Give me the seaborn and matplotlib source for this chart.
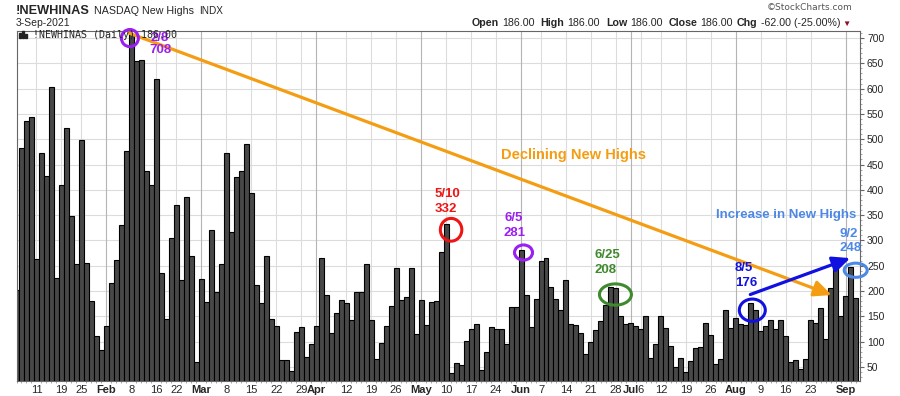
import numpy as np
import pandas as pd
import matplotlib
matplotlib.use('Agg')
import matplotlib.pyplot as plt
import seaborn as sns
from matplotlib.patches import Ellipse, Rectangle

# daily NASDAQ new highs (Jan 5 - Sep 3 2021)
jan = [202, 482, 536, 543, 264, 472, 427, 604, 225, 409, 522, 348, 254, 498, 256, 181, 111, 84]
feb = [130, 215, 261, 330, 476, 708, 655, 657, 438, 410, 619, 235, 144, 304, 369, 222, 385, 270, 60]
mar = [223, 179, 320, 197, 254, 472, 316, 425, 438, 490, 393, 211, 177, 270, 144, 130, 64, 64, 41, 118, 128, 70, 96]
apr = [130, 266, 193, 116, 157, 183, 177, 142, 197, 197, 254, 142, 66, 98, 130, 171, 246, 183, 189, 246, 114]
may = [183, 132, 179, 181, 278, 332, 37, 58, 53, 102, 124, 134, 43, 80, 128, 124, 124, 96, 169, 169]
jun = [281, 193, 128, 185, 260, 266, 207, 185, 163, 221, 134, 132, 116, 76, 100, 122, 140, 173, 208, 205, 151, 134]
jul = [136, 130, 124, 151, 68, 96, 151, 126, 92, 49, 68, 39, 62, 88, 90, 136, 112, 56, 66, 163, 126]
aug = [146, 134, 132, 176, 163, 120, 130, 142, 124, 142, 110, 60, 64, 45, 66, 142, 136, 167, 106, 205, 245, 150]
sep = [191, 248, 186]

holidays = ['2021-01-18', '2021-02-15', '2021-04-02', '2021-05-31', '2021-07-05']

tick_dates = ['2021-01-11', '2021-01-19', '2021-01-25',
              '2021-02-01', '2021-02-08', '2021-02-16', '2021-02-22',
              '2021-03-01', '2021-03-08', '2021-03-15', '2021-03-22', '2021-03-29',
              '2021-04-01', '2021-04-12', '2021-04-19', '2021-04-26',
              '2021-05-03', '2021-05-10', '2021-05-17', '2021-05-24',
              '2021-06-01', '2021-06-07', '2021-06-14', '2021-06-21', '2021-06-28',
              '2021-07-01', '2021-07-06', '2021-07-12', '2021-07-19', '2021-07-26',
              '2021-08-02', '2021-08-09', '2021-08-16', '2021-08-23',
              '2021-09-01']
tick_labels = ['11', '19', '25',
               'Feb', '8', '16', '22',
               'Mar', '8', '15', '22', '29',
               'Apr', '12', '19', '26',
               'May', '10', '17', '24',
               'Jun', '7', '14', '21', '28',
               'Jul', '6', '12', '19', '26',
               'Aug', '9', '16', '23',
               'Sep']
months = ['Feb', 'Mar', 'Apr', 'May', 'Jun', 'Jul', 'Aug', 'Sep']

days = pd.bdate_range('2021-01-05', '2021-09-03')
days = days[~days.isin(pd.to_datetime(holidays))]
values = jan + feb + mar + apr + may + jun + jul + aug + sep
df = pd.DataFrame({'date': days.strftime('%Y-%m-%d'), 'highs': values})
pos = {d: i for i, d in enumerate(df['date'])}

sns.set_style('white')
plt.rcParams['font.family'] = ['Liberation Sans', 'DejaVu Sans']

W, H = 900, 396
fig = plt.figure(figsize=(9, 3.96), dpi=100)
ax = fig.add_axes([16.5 / W, 1 - 381 / H, 843.5 / W, 350 / H])

sns.barplot(data=df, x='date', y='highs', color='#484848', saturation=1,
            width=1.0, edgecolor='black', linewidth=0.8, ax=ax, zorder=2)

ax.set_xlim(0.16, len(df) - 0.14)
ax.set_ylim(22, 714)
ax.set_xlabel('')
ax.set_ylabel('')

# grid
ax.set_axisbelow(True)
for y in range(50, 701, 50):
    ax.axhline(y, color='#dcdcdc', lw=0.8, zorder=0)
for d, lab in zip(tick_dates, tick_labels):
    c = '#b4b4b4' if lab in months else '#dcdcdc'
    ax.axvline(pos[d], color=c, lw=0.8, zorder=0)

ax.set_xticks([pos[d] for d in tick_dates])
ax.set_xticklabels(tick_labels, fontsize=8)
for t in ax.get_xticklabels():
    if t.get_text() in months:
        t.set_fontweight('bold')
ax.set_xticks(range(len(df)), minor=True)
ax.tick_params(axis='x', which='major', length=0, pad=3)
ax.tick_params(axis='x', which='minor', length=1.5, color='#999999', bottom=True)

ax.yaxis.tick_right()
ax.set_yticks(range(50, 701, 50))
ax.set_yticks(range(30, 711, 10), minor=True)
ax.tick_params(axis='y', which='major', length=3, labelsize=7.5, pad=2, color='#666666', right=True)
ax.tick_params(axis='y', which='minor', length=1.5, color='#999999', right=True)
for s in ax.spines.values():
    s.set_color('#666666')
    s.set_linewidth(0.8)

# annotations
orange = '#f59d12'
purple = '#9a1ff0'
red = '#ee1515'
green = '#3f8a2c'
blue = '#1010e0'
lblue = '#4d88e6'

ax.annotate('', xy=(163.2, 192), xytext=(22.5, 710),
            arrowprops=dict(arrowstyle='-|>,head_length=0.7,head_width=0.32', color=orange,
                            lw=2.3, mutation_scale=15, shrinkA=0, shrinkB=0),
            annotation_clip=False, zorder=4)
ax.annotate('', xy=(166.9, 265), xytext=(146.9, 193),
            arrowprops=dict(arrowstyle='-|>,head_length=0.7,head_width=0.32', color=blue,
                            lw=2.3, mutation_scale=15, shrinkA=0, shrinkB=0),
            annotation_clip=False, zorder=4)

circles = [(pos['2021-02-08'] - 0.3, 700, 3.4, 34, purple),
           (pos['2021-05-10'] + 1.0, 321, 4.3, 45, red),
           (pos['2021-06-01'] + 0.5, 276, 3.6, 30, purple),
           (pos['2021-06-25'] + 0.9, 193, 6.4, 42, green),
           (pos['2021-08-05'] + 0.3, 162, 5.2, 44, blue),
           (pos['2021-09-02'] + 1.0, 241, 4.6, 28, lblue)]
for x, y, w, h, c in circles:
    ax.add_patch(Ellipse((x, y), w, h, fill=False, edgecolor=c, lw=2.2, zorder=5, clip_on=False))

labels = [(28.7, 700, '2/8', purple), (28.9, 676, '708', purple),
          (86.2, 391, '5/10', red), (85.9, 363, '332', red),
          (99.5, 344, '6/5', purple), (99.7, 315, '281', purple),
          (118.3, 272, '6/25', green), (117.9, 241, '208', green),
          (145.5, 245, '8/5', blue), (146.0, 215, '176', blue),
          (166.5, 313, '9/2', lblue), (166.9, 284, '248', lblue)]
for x, y, s, c in labels:
    ax.text(x, y, s, color=c, fontsize=9.5, fontweight='bold', ha='center', va='center', zorder=6)

ax.text(111.5, 468, 'Declining New Highs', color=orange, fontsize=10.5, fontweight='bold',
        ha='center', va='center', zorder=6)
ax.text(154.1, 350, 'Increase in New Highs', color=lblue, fontsize=9.5, fontweight='bold',
        ha='center', va='center', zorder=6)

# header
fig.text(16 / W, 1 - 14 / H, '!NEWHINAS', fontsize=9.2, fontweight='bold', va='baseline')
fig.text(94 / W, 1 - 14 / H, 'NASDAQ New Highs', fontsize=7.7, va='baseline')
fig.text(199 / W, 1 - 14 / H, 'INDX', fontsize=7.2, va='baseline')
fig.text(16 / W, 1 - 26 / H, '3-Sep-2021', fontsize=7.5, va='baseline')
fig.text(853 / W, 1 - 10 / H, '\u00a9StockCharts.com', fontsize=6.5, family='DejaVu Sans',
         color='#555555', ha='right', va='baseline')

renderer = fig.canvas.get_renderer()
pieces = [('Open', 'bold', 3), ('186.00', 'normal', 6), ('High', 'bold', 3), ('186.00', 'normal', 6),
          ('Low', 'bold', 3), ('186.00', 'normal', 6), ('Close', 'bold', 3), ('186.00', 'normal', 4),
          ('Chg', 'bold', 3), ('-62.00 (-25.00%)', 'normal', 2)]
x = 472
for s, wt, gap in pieces:
    t = fig.text(x / W, 1 - 26 / H, s, fontsize=7.7, fontweight=wt, va='baseline')
    x += t.get_window_extent(renderer).width + gap
fig.text(x / W, 1 - 26 / H, '\u25bc', fontsize=6, color='#8b1020', va='baseline')

# legend line inside the plot
for bx, bh in [(19, 5), (22, 7), (25, 4)]:
    fig.patches.append(Rectangle((bx / W, 1 - 38 / H), 2 / W, bh / H, transform=fig.transFigure,
                                 color='#222222', zorder=3))
fig.text(33 / W, 1 - 38.5 / H, '!NEWHINAS (Daily) 186.00', fontsize=7.2,
         family='DejaVu Sans Mono', va='baseline', zorder=3)

fig.savefig('out.png', dpi=100)
